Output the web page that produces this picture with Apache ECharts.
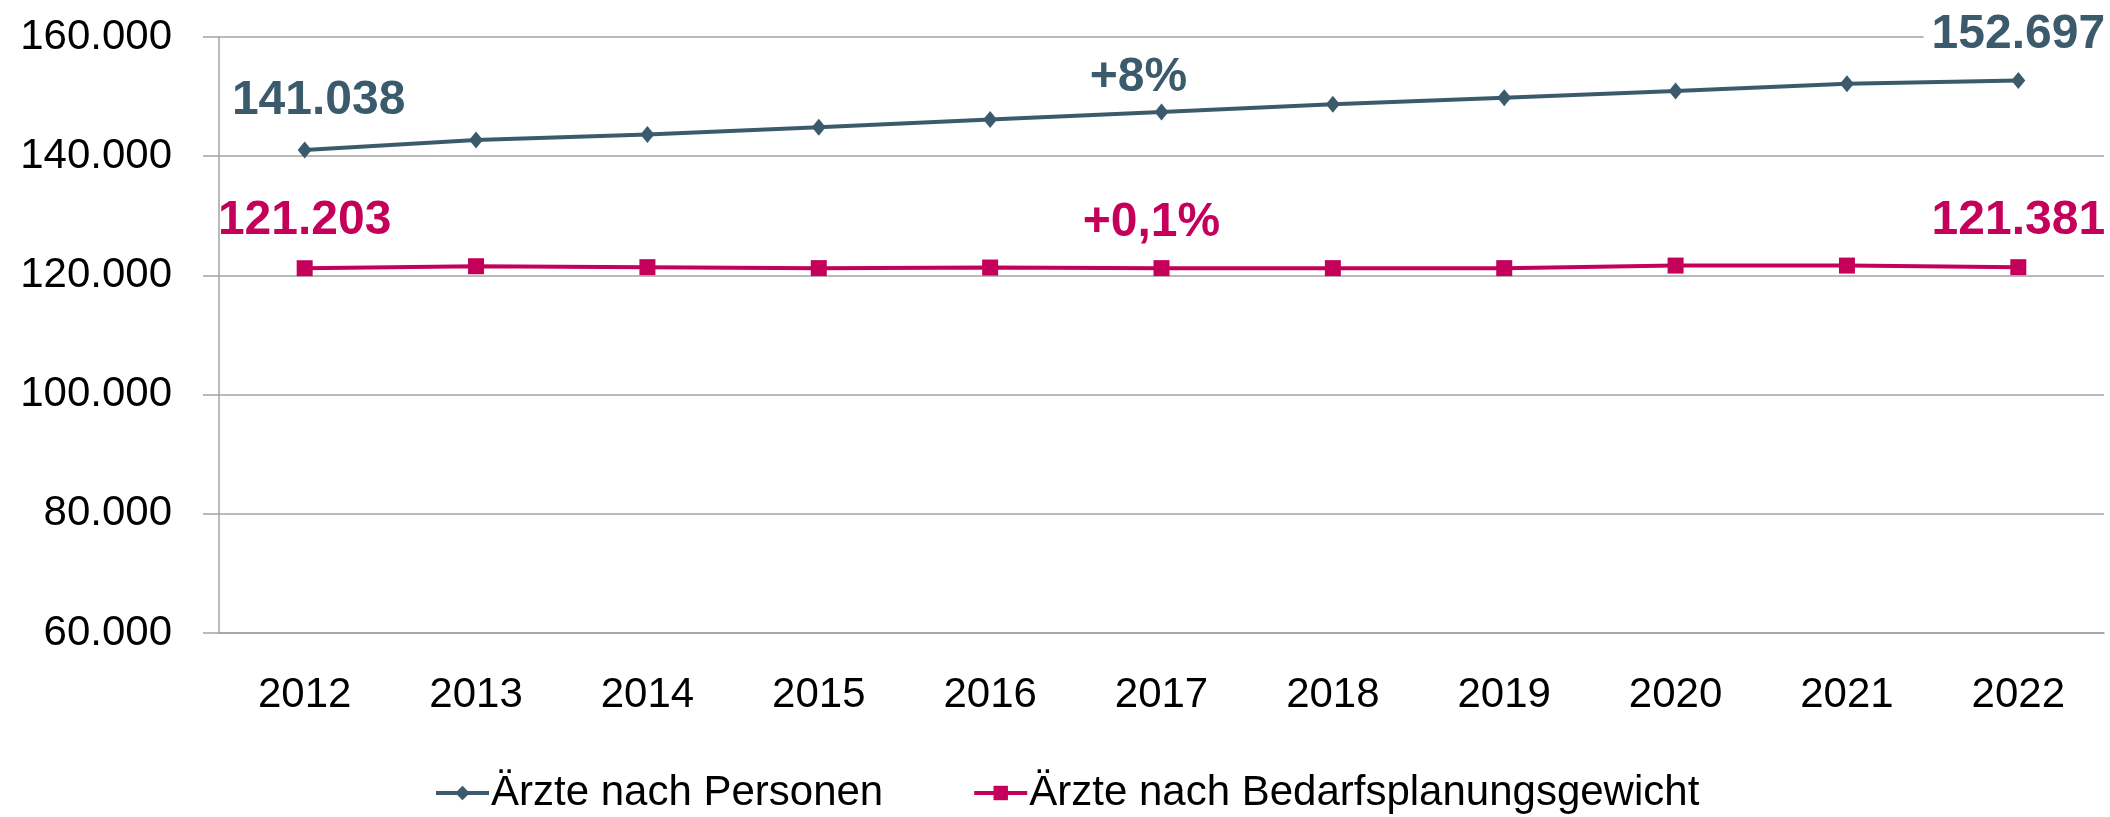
<!DOCTYPE html>
<html>
<head>
<meta charset="utf-8">
<script src="https://cdn.jsdelivr.net/npm/echarts@6/dist/echarts.min.js"></script>
<style>
  html, body { margin: 0; padding: 0; background: #fff; }
  #chart { width: 2110px; height: 817px; }
</style>
</head>
<body>
<div id="chart"></div>
<script>
const years = ['2012', '2013', '2014', '2015', '2016', '2017', '2018', '2019', '2020', '2021', '2022']
const personen = [141038, 142700, 143650, 144850, 146150, 147400, 148700, 149800, 150950, 152150, 152697]
const bedarf = [121203, 121540, 121380, 121220, 121320, 121220, 121220, 121220, 121650, 121650, 121381]
const yTicks = { min: 60000, max: 160000, interval: 20000 }

// labels shown on selected points: [index, text, offset]
const personenLabels = [[0, '141.038', [14, -49]], [5, '+8%', [-23, -34]], [10, '152.697', [0, -46]]]
const bedarfLabels = [[0, '121.203', [0, -47]], [5, '+0,1%', [-10, -45]], [10, '121.381', [0, -46]]]

const blue = '#3b5b6c'
const pink = '#c4005a'
const grey = '#a3a3a3'
const font = "'Liberation Sans', Arial, sans-serif"

const fmt = v => String(v).replace(/\B(?=(\d{3})+(?!\d))/g, '.')

function buildData(values, labels, color) {
  return values.map((v, i) => {
    const hit = labels.find(l => l[0] === i)
    if (!hit) return v
    return {
      value: v,
      label: {
        show: true,
        position: 'inside',
        offset: hit[2],
        formatter: hit[1],
        color,
        fontFamily: font,
        fontSize: 48,
        fontWeight: 'bold',
        backgroundColor: i === 10 ? '#fff' : 'transparent',
        padding: [0, 8]
      }
    }
  })
}

const chart = echarts.init(document.getElementById('chart'))

chart.setOption({
  animation: false,
  grid: { left: 219, right: 6, top: 37, bottom: 184 },
  legend: {
    left: 429,
    top: 767,
    itemWidth: 53,
    itemHeight: 18,
    itemGap: 89,
    lineStyle: { width: 4 },
    textStyle: { fontFamily: font, fontSize: 42, color: '#000', padding: [0, 0, 0, -3] },
    data: ['Ärzte nach Personen', 'Ärzte nach Bedarfsplanungsgewicht']
  },
  xAxis: {
    type: 'category',
    data: years,
    boundaryGap: true,
    axisLine: { lineStyle: { color: grey, width: 1.5 } },
    axisTick: { length: 15, lineStyle: { color: grey, width: 1.5 } },
    axisLabel: { fontFamily: font, fontSize: 42, color: '#000', margin: 41 }
  },
  yAxis: {
    type: 'value',
    min: yTicks.min,
    max: yTicks.max,
    interval: yTicks.interval,
    axisLine: { show: true, lineStyle: { color: grey, width: 1.5 } },
    axisTick: { show: true, length: 16, lineStyle: { color: grey, width: 1.5 } },
    splitLine: { lineStyle: { color: grey, width: 1.5 } },
    axisLabel: { fontFamily: font, fontSize: 42, color: '#000', margin: 47, formatter: fmt }
  },
  series: [
    {
      name: 'Ärzte nach Personen',
      type: 'line',
      data: buildData(personen, personenLabels, blue),
      symbol: 'diamond',
      symbolSize: [14, 17],
      color: blue,
      lineStyle: { color: blue, width: 4 },
      itemStyle: { color: blue },
      z: 3
    },
    {
      name: 'Ärzte nach Bedarfsplanungsgewicht',
      type: 'line',
      data: buildData(bedarf, bedarfLabels, pink),
      symbol: 'rect',
      symbolSize: 16,
      color: pink,
      lineStyle: { color: pink, width: 4 },
      itemStyle: { color: pink },
      z: 3
    }
  ]
})
</script>
</body>
</html>
